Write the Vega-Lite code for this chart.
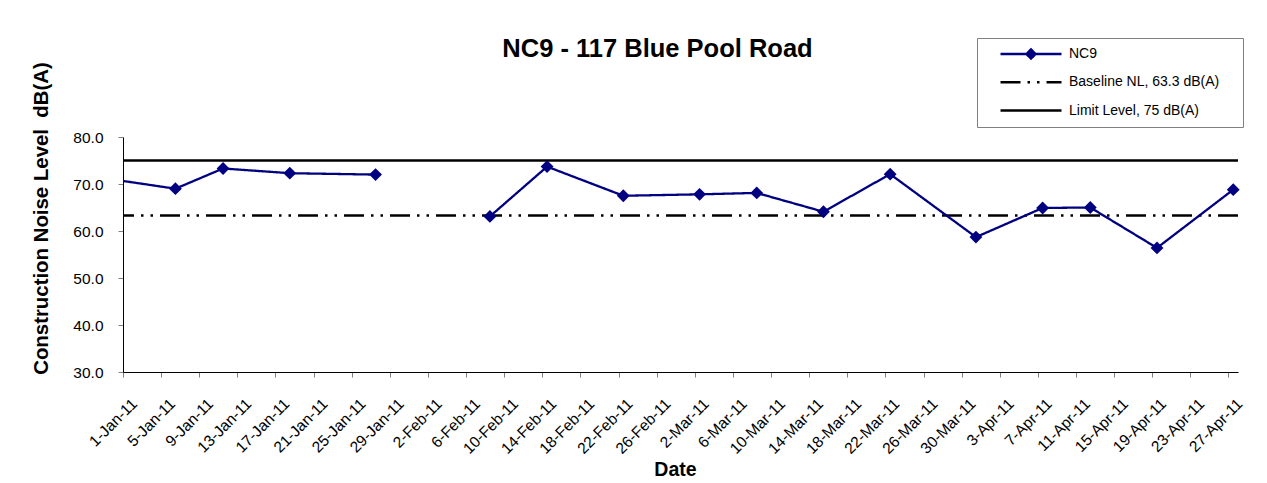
{
  "$schema": "https://vega.github.io/schema/vega-lite/v6.json",
  "autosize": "none",
  "width": 1115,
  "height": 235,
  "padding": {"left": 123, "top": 137, "right": 29, "bottom": 111},
  "background": "white",
  "config": {
    "font": "Liberation Sans",
    "view": {"stroke": null},
    "axis": {
      "grid": false,
      "domainColor": "#000000",
      "domainWidth": 1,
      "tickColor": "#808080",
      "tickSize": 5,
      "labelColor": "#000000",
      "labelFont": "Liberation Sans",
      "titleFont": "Liberation Sans",
      "titleColor": "#000000"
    }
  },
  "title": {
    "text": "NC9 - 117 Blue Pool Road",
    "font": "Liberation Sans",
    "fontSize": 25.5,
    "fontWeight": "bold",
    "color": "#000000",
    "anchor": "middle",
    "dx": -23,
    "baseline": "alphabetic",
    "offset": -45
  },
  "datasets": {
    "nc9": [
      {"date": "2010-12-31", "value": 70.8, "series": "NC9"},
      {"date": "2011-01-06", "value": 69.0, "series": "NC9"},
      {"date": "2011-01-11", "value": 73.3, "series": "NC9"},
      {"date": "2011-01-18", "value": 72.3, "series": "NC9"},
      {"date": "2011-01-27", "value": 72.0, "series": "NC9"},
      {"date": "2011-02-02", "value": null, "series": "NC9"},
      {"date": "2011-02-08", "value": 63.1, "series": "NC9"},
      {"date": "2011-02-14", "value": 73.7, "series": "NC9"},
      {"date": "2011-02-22", "value": 67.5, "series": "NC9"},
      {"date": "2011-03-02", "value": 67.8, "series": "NC9"},
      {"date": "2011-03-08", "value": 68.1, "series": "NC9"},
      {"date": "2011-03-15", "value": 64.1, "series": "NC9"},
      {"date": "2011-03-22", "value": 72.1, "series": "NC9"},
      {"date": "2011-03-31", "value": 58.7, "series": "NC9"},
      {"date": "2011-04-07", "value": 64.9, "series": "NC9"},
      {"date": "2011-04-12", "value": 65.0, "series": "NC9"},
      {"date": "2011-04-19", "value": 56.4, "series": "NC9"},
      {"date": "2011-04-27", "value": 68.8, "series": "NC9"}
    ],
    "refs": [
      {"series": "Baseline NL, 63.3 dB(A)", "value": 63.3},
      {"series": "Limit Level, 75 dB(A)", "value": 75}
    ]
  },
  "layer": [
    {
      "data": {"name": "refs"},
      "mark": {"type": "rule", "strokeWidth": 2.5},
      "encoding": {
        "y": {
          "field": "value", "type": "quantitative",
          "scale": {"domain": [30, 80], "nice": false, "zero": false},
          "axis": {
            "title": "Construction Noise Level\u00a0 dB(A)",
            "values": [30, 40, 50, 60, 70, 80],
            "format": ".1f",
            "labelFontSize": 15.5,
            "labelPadding": 15,
            "titleFontSize": 20.4,
            "titleFontWeight": "bold",
            "titleAngle": -90,
            "titleX": -76,
            "titleY": 81,
            "titleAlign": "center",
            "titleBaseline": "alphabetic"
          }
        },
        "color": {
          "field": "series", "type": "nominal",
          "scale": {"domain": ["NC9", "Baseline NL, 63.3 dB(A)", "Limit Level, 75 dB(A)"], "range": ["#000080", "#000000", "#000000"]},
          "legend": {
            "title": "\u00a0", "titleOrient": "right", "titlePadding": 18, "titleFontSize": 14,
            "orient": "none", "legendX": 854, "legendY": -99,
            "padding": 6, "clipHeight": 20, "rowPadding": 8.3,
            "symbolSize": 5929, "symbolStrokeWidth": 2.5,
            "labelFont": "Liberation Sans", "labelFontSize": 14, "labelColor": "#000000",
            "labelOffset": 6, "labelLimit": 300,
            "fillColor": "white", "strokeColor": "#808080",
            "encode": {
              "symbols": {"update": {
                "shape": {"signal": "datum.value === 'NC9' ? 'M-0.584,0H1M0.091,0L0.208,-0.117L0.325,0L0.208,0.117Z' : 'M-0.584,0H1'"},
                "fill": {"signal": "datum.value === 'NC9' ? '#000080' : 'transparent'"}
              }}
            }
          }
        },
        "strokeDash": {
          "field": "series", "type": "nominal",
          "scale": {"domain": ["NC9", "Baseline NL, 63.3 dB(A)", "Limit Level, 75 dB(A)"], "range": [[1, 0], [20, 7, 2.5, 7, 2.5, 7], [1, 0]]},
          "legend": {
            "title": "\u00a0", "titleOrient": "right", "titlePadding": 18, "titleFontSize": 14,
            "orient": "none", "legendX": 854, "legendY": -99,
            "padding": 6, "clipHeight": 20, "rowPadding": 8.3,
            "symbolSize": 5929, "symbolStrokeWidth": 2.5,
            "labelFont": "Liberation Sans", "labelFontSize": 14, "labelColor": "#000000",
            "labelOffset": 6, "labelLimit": 300,
            "fillColor": "white", "strokeColor": "#808080",
            "encode": {
              "symbols": {"update": {
                "shape": {"signal": "datum.value === 'NC9' ? 'M-0.584,0H1M0.091,0L0.208,-0.117L0.325,0L0.208,0.117Z' : 'M-0.584,0H1'"},
                "fill": {"signal": "datum.value === 'NC9' ? '#000080' : 'transparent'"}
              }}
            }
          }
        }
      }
    },
    {
      "data": {"name": "nc9"},
      "mark": {"type": "line", "strokeWidth": 2.3, "clip": true},
      "encoding": {
        "x": {
          "field": "date", "type": "temporal", "timeUnit": "utcyearmonthdate", "bandPosition": 0.5,
          "scale": {"type": "utc", "domain": [{"year": 2011, "month": 1, "date": 1, "utc": true}, {"year": 2011, "month": 4, "date": 28, "utc": true}], "nice": false},
          "axis": {
            "title": "Date",
            "values": [
              {"year": 2011, "month": 1, "date": 1, "utc": true},
              {"year": 2011, "month": 1, "date": 5, "utc": true},
              {"year": 2011, "month": 1, "date": 9, "utc": true},
              {"year": 2011, "month": 1, "date": 13, "utc": true},
              {"year": 2011, "month": 1, "date": 17, "utc": true},
              {"year": 2011, "month": 1, "date": 21, "utc": true},
              {"year": 2011, "month": 1, "date": 25, "utc": true},
              {"year": 2011, "month": 1, "date": 29, "utc": true},
              {"year": 2011, "month": 2, "date": 2, "utc": true},
              {"year": 2011, "month": 2, "date": 6, "utc": true},
              {"year": 2011, "month": 2, "date": 10, "utc": true},
              {"year": 2011, "month": 2, "date": 14, "utc": true},
              {"year": 2011, "month": 2, "date": 18, "utc": true},
              {"year": 2011, "month": 2, "date": 22, "utc": true},
              {"year": 2011, "month": 2, "date": 26, "utc": true},
              {"year": 2011, "month": 3, "date": 2, "utc": true},
              {"year": 2011, "month": 3, "date": 6, "utc": true},
              {"year": 2011, "month": 3, "date": 10, "utc": true},
              {"year": 2011, "month": 3, "date": 14, "utc": true},
              {"year": 2011, "month": 3, "date": 18, "utc": true},
              {"year": 2011, "month": 3, "date": 22, "utc": true},
              {"year": 2011, "month": 3, "date": 26, "utc": true},
              {"year": 2011, "month": 3, "date": 30, "utc": true},
              {"year": 2011, "month": 4, "date": 3, "utc": true},
              {"year": 2011, "month": 4, "date": 7, "utc": true},
              {"year": 2011, "month": 4, "date": 11, "utc": true},
              {"year": 2011, "month": 4, "date": 15, "utc": true},
              {"year": 2011, "month": 4, "date": 19, "utc": true},
              {"year": 2011, "month": 4, "date": 23, "utc": true},
              {"year": 2011, "month": 4, "date": 27, "utc": true}
            ],
            "labelExpr": "utcFormat(datum.value, '%-d-%b-%y')",
            "labelAngle": -45,
            "labelAlign": "right",
            "labelBaseline": "top",
            "labelFontSize": 15.5,
            "labelPadding": 19,
            "labelOffset": 6,
            "labelOverlap": false,
            "labelFlush": false,
            "labelBound": false,
            "titleFontSize": 19.5,
            "titleFontWeight": "bold",
            "titleX": 552,
            "titleY": 103,
            "titleAlign": "center",
            "titleBaseline": "alphabetic"
          }
        },
        "y": {
          "field": "value", "type": "quantitative",
          "scale": {"domain": [30, 80], "nice": false, "zero": false},
          "axis": {
            "title": "Construction Noise Level\u00a0 dB(A)",
            "values": [30, 40, 50, 60, 70, 80],
            "format": ".1f",
            "labelFontSize": 15.5,
            "labelPadding": 15,
            "titleFontSize": 20.4,
            "titleFontWeight": "bold",
            "titleAngle": -90,
            "titleX": -76,
            "titleY": 81,
            "titleAlign": "center",
            "titleBaseline": "alphabetic"
          }
        },
        "color": {"field": "series", "type": "nominal"},
        "strokeDash": {"field": "series", "type": "nominal"}
      }
    },
    {
      "data": {"name": "nc9"},
      "transform": [{"filter": "datum.value != null && utcyear(datum.date) >= 2011"}],
      "mark": {"type": "point", "shape": "diamond", "filled": true, "size": 165, "color": "#000080", "opacity": 1},
      "encoding": {
        "x": {
          "field": "date", "type": "temporal", "timeUnit": "utcyearmonthdate", "bandPosition": 0.5,
          "axis": {
            "title": "Date",
            "values": [
              {"year": 2011, "month": 1, "date": 1, "utc": true},
              {"year": 2011, "month": 1, "date": 5, "utc": true},
              {"year": 2011, "month": 1, "date": 9, "utc": true},
              {"year": 2011, "month": 1, "date": 13, "utc": true},
              {"year": 2011, "month": 1, "date": 17, "utc": true},
              {"year": 2011, "month": 1, "date": 21, "utc": true},
              {"year": 2011, "month": 1, "date": 25, "utc": true},
              {"year": 2011, "month": 1, "date": 29, "utc": true},
              {"year": 2011, "month": 2, "date": 2, "utc": true},
              {"year": 2011, "month": 2, "date": 6, "utc": true},
              {"year": 2011, "month": 2, "date": 10, "utc": true},
              {"year": 2011, "month": 2, "date": 14, "utc": true},
              {"year": 2011, "month": 2, "date": 18, "utc": true},
              {"year": 2011, "month": 2, "date": 22, "utc": true},
              {"year": 2011, "month": 2, "date": 26, "utc": true},
              {"year": 2011, "month": 3, "date": 2, "utc": true},
              {"year": 2011, "month": 3, "date": 6, "utc": true},
              {"year": 2011, "month": 3, "date": 10, "utc": true},
              {"year": 2011, "month": 3, "date": 14, "utc": true},
              {"year": 2011, "month": 3, "date": 18, "utc": true},
              {"year": 2011, "month": 3, "date": 22, "utc": true},
              {"year": 2011, "month": 3, "date": 26, "utc": true},
              {"year": 2011, "month": 3, "date": 30, "utc": true},
              {"year": 2011, "month": 4, "date": 3, "utc": true},
              {"year": 2011, "month": 4, "date": 7, "utc": true},
              {"year": 2011, "month": 4, "date": 11, "utc": true},
              {"year": 2011, "month": 4, "date": 15, "utc": true},
              {"year": 2011, "month": 4, "date": 19, "utc": true},
              {"year": 2011, "month": 4, "date": 23, "utc": true},
              {"year": 2011, "month": 4, "date": 27, "utc": true}
            ],
            "labelExpr": "utcFormat(datum.value, '%-d-%b-%y')",
            "labelAngle": -45,
            "labelAlign": "right",
            "labelBaseline": "top",
            "labelFontSize": 15.5,
            "labelPadding": 19,
            "labelOffset": 6,
            "labelOverlap": false,
            "labelFlush": false,
            "labelBound": false,
            "titleFontSize": 19.5,
            "titleFontWeight": "bold",
            "titleX": 552,
            "titleY": 103,
            "titleAlign": "center",
            "titleBaseline": "alphabetic"
          }
        },
        "y": {"field": "value", "type": "quantitative"}
      }
    }
  ]
}
